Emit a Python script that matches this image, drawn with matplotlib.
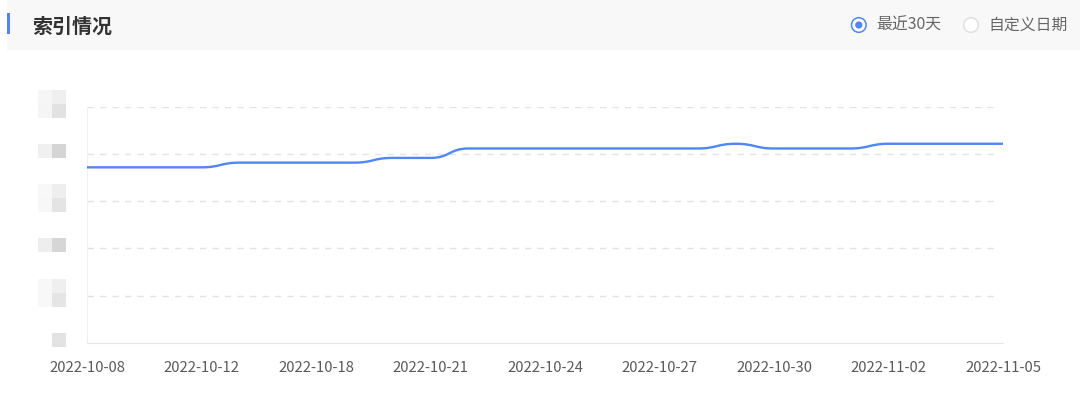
import numpy as np
import matplotlib
matplotlib.use('Agg')
import matplotlib.pyplot as plt
from matplotlib.path import Path
from matplotlib.patches import PathPatch, Rectangle, Circle

plt.rcParams['font.family'] = ['Noto Sans CJK SC', 'DejaVu Sans']

# Данные
tick_dates = ['2022-10-08', '2022-10-12', '2022-10-18', '2022-10-21', '2022-10-24',
              '2022-10-27', '2022-10-30', '2022-11-02', '2022-11-05']
label_step = 3
index_counts = [372, 372, 372, 372, 382, 382, 382, 382, 392, 392,
                412, 412, 412, 412, 412, 412, 412, 422, 412, 412,
                412, 422, 422, 422, 422]
y_ticks = [0, 100, 200, 300, 400, 500]

title = '索引情况'
radio_labels = ['最近30天', '自定义日期']

W, H = 1080, 401
LINE = '#4f86f8'


def smooth_curve(xs, ys, sx, sy, smooth=0.5):
    """Сглаживание как в echarts (bezier с ограничением контрольных точек)"""
    pts = [(x * sx, y * sy) for x, y in zip(xs, ys)]
    verts = [pts[0]]
    codes = [Path.MOVETO]
    cpx0, cpy0 = pts[0]
    n = len(pts)
    for k in range(1, n):
        px, py = pts[k - 1]
        x, y = pts[k]
        if k + 1 >= n:
            cpx1, cpy1 = x, y
            ncx, ncy = x, y
        else:
            nx, ny = pts[k + 1]
            vx, vy = nx - px, ny - py
            lp = np.hypot(x - px, y - py)
            ln = np.hypot(nx - x, ny - y)
            r = ln / (ln + lp)
            ncx = x + vx * smooth * r
            ncy = y + vy * smooth * r
            ncx = max(min(ncx, max(nx, x)), min(nx, x))
            ncy = max(min(ncy, max(ny, y)), min(ny, y))
            vx, vy = ncx - x, ncy - y
            cpx1 = x - vx * lp / ln
            cpy1 = y - vy * lp / ln
            cpx1 = max(min(cpx1, max(px, x)), min(px, x))
            cpy1 = max(min(cpy1, max(py, y)), min(py, y))
            vx, vy = x - cpx1, y - cpy1
            ncx = x + vx * ln / lp
            ncy = y + vy * ln / lp
        verts += [(cpx0, cpy0), (cpx1, cpy1), (x, y)]
        codes += [Path.CURVE4] * 3
        cpx0, cpy0 = ncx, ncy
    verts = [(a / sx, b / sy) for a, b in verts]
    return Path(verts, codes)


fig = plt.figure(figsize=(W / 100, H / 100), dpi=100)
fig.patch.set_facecolor('white')

# Основная область графика
x0, x1 = 87, 1003
yb, yt = 342.7, 107
ax = fig.add_axes([x0 / W, (H - yb) / H, (x1 - x0) / W, (yb - yt) / H])
ax.set_facecolor('none')
n = len(index_counts)
xs = np.arange(n)
ax.set_xlim(0, n - 1)
ax.set_ylim(y_ticks[0], y_ticks[-1])

for v in y_ticks[1:]:
    ax.plot([0, n - 1.1], [v, v], color='#e3e3e3', lw=1, ls=(0, (4.5, 4.5)), zorder=1)

sx = (x1 - x0) / (n - 1)
sy = (yb - yt) / (y_ticks[-1] - y_ticks[0])
path = smooth_curve(xs, index_counts, sx, sy)
ax.add_patch(PathPatch(path, facecolor='none', edgecolor=LINE, lw=1.7, zorder=3,
                       capstyle='round', joinstyle='round'))

for s in ['top', 'right']:
    ax.spines[s].set_visible(False)
ax.spines['bottom'].set_color('#e6e6e6')
ax.spines['left'].set_color('#f0f0f0')
ax.set_yticks([])
ax.set_xticks(xs[::label_step])
ax.set_xticklabels(tick_dates, fontsize=10.7, color='#5a5a5a')
ax.tick_params(axis='x', length=0, pad=13.5)

# Верхняя панель и декор
ov = fig.add_axes([0, 0, 1, 1], zorder=-1)
ov.set_xlim(0, W)
ov.set_ylim(H, 0)
ov.axis('off')
ov.add_patch(Rectangle((7, 0), W - 7, 50, color='#f8f8f8', lw=0))
ov.add_patch(Rectangle((7, 13), 3, 21, color='#4f83f6', lw=0))
ov.text(32, 26.5, title, fontsize=14.4, fontweight='bold', color='#333333',
        ha='left', va='center')

ov.add_patch(Circle((858.8, 25), 7.3, facecolor='white', edgecolor='#4f85f6', lw=1.1))
ov.add_patch(Circle((858.8, 25), 3.6, color='#4f85f6', lw=0))
ov.text(876, 25.5, radio_labels[0], fontsize=11.4, color='#666666', ha='left', va='center')
ov.add_patch(Circle((971, 25), 7.3, facecolor='white', edgecolor='#e0e0e0', lw=1.1))
ov.text(988, 25.5, radio_labels[1], fontsize=11.4, color='#666666', ha='left', va='center')

# Подписи оси Y размыты мозаикой (как в оригинале)
mosaic = {
    500: [['#f6f6f6', '#efefef'], ['#f5f5f5', '#e2e2e2']],
    400: [['#f0f0f0', '#d5d5d5']],
    300: [['#f8f8f8', '#eeeeee'], ['#f7f7f7', '#e4e4e4']],
    200: [['#eeeeee', '#d6d6d6']],
    100: [['#f8f8f8', '#efefef'], ['#f8f8f8', '#e5e5e5']],
    0: [[None, '#e3e3e3']],
}
blk = 14
for v in y_ticks:
    py = H - ax.transData.transform((0, v))[1] - 3
    rows = mosaic[v]
    top = py - blk * len(rows) / 2
    for r, row in enumerate(rows):
        for c, col in enumerate(row):
            if col is None:
                continue
            ov.add_patch(Rectangle((38 + c * blk, top + r * blk), blk, blk, color=col, lw=0))

fig.savefig('out.png', dpi=100)
